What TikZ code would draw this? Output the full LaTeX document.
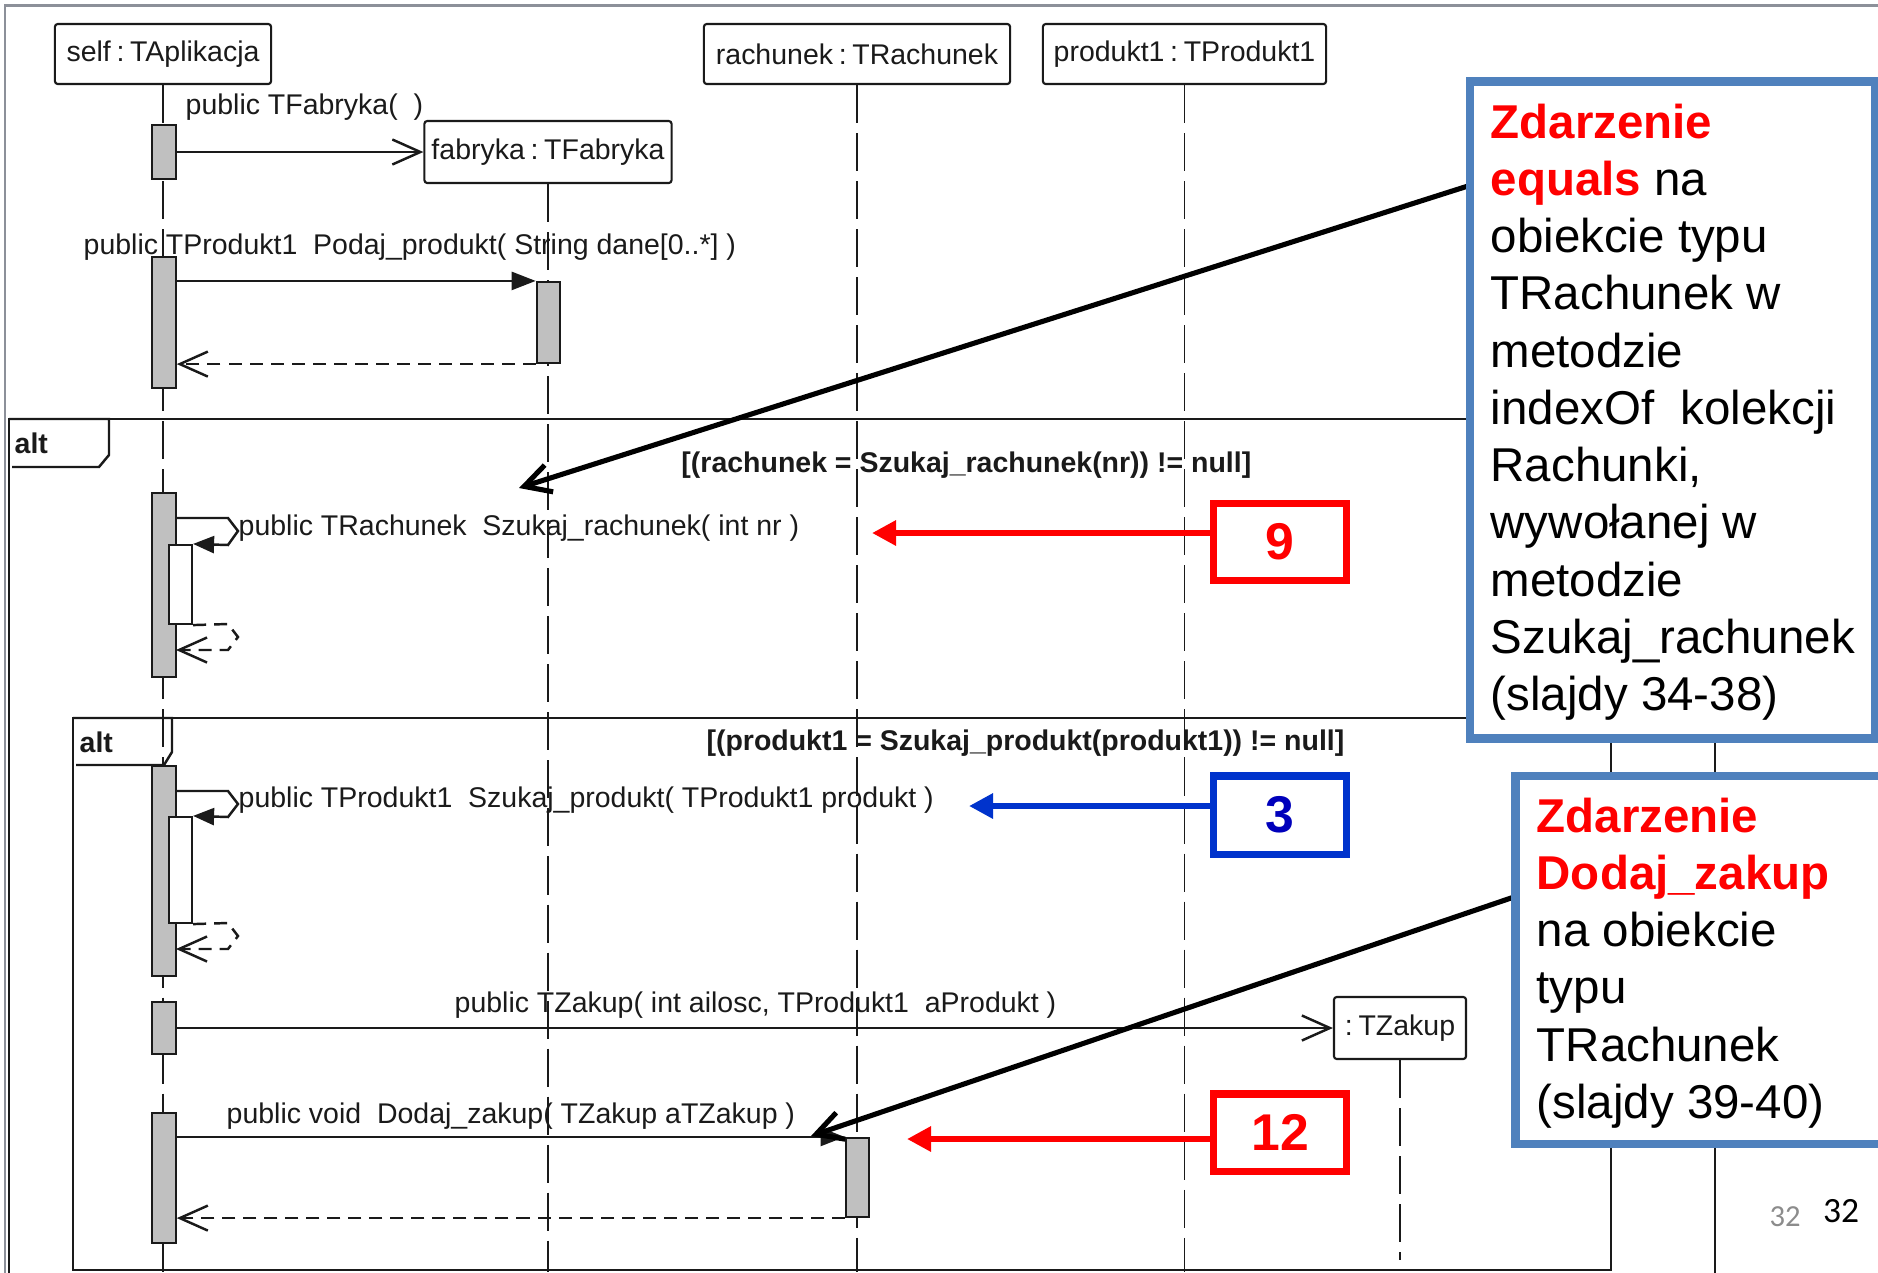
\documentclass[tikz,border=0pt]{standalone}
\usepackage{fontspec}
\setmainfont{Liberation Sans}
\newfontfamily\pagefont{Carlito}
\usetikzlibrary{arrows.meta}
\definecolor{calloutblue}{HTML}{4F81BD}
\definecolor{hotred}{HTML}{FF0000}
\definecolor{boxblue}{HTML}{0033CC}
\definecolor{numblue}{HTML}{0000BB}
\definecolor{actgray}{HTML}{C0C0C0}
\definecolor{framegray}{HTML}{8C9099}
\definecolor{ink}{HTML}{1A1A1A}
\definecolor{pagegray}{HTML}{8C8C8C}
\newcommand{\cs}{\hspace{0.2em}:\hspace{0.2em}}
\begin{document}
\begin{tikzpicture}[x=0.01cm,y=-0.01cm,
  diag/.style={font=\fontsize{8.1}{9.5}\selectfont, text=ink, inner sep=0pt},
  diagbold/.style={font=\fontsize{8.1}{9.5}\selectfont\bfseries, text=ink, inner sep=0pt},
  obj/.style={draw=ink, line width=0.6pt, rounded corners=0.8pt, fill=white, inner sep=0pt,
    font=\fontsize{8.1}{9.5}\selectfont, text=ink},
  lifeline/.style={draw=ink, line width=0.55pt, dash pattern=on 0.38cm off 0.1cm},
  act/.style={draw=ink, line width=0.6pt, fill=actgray, minimum width=0.235cm, inner sep=0pt},
  nested/.style={draw=ink, line width=0.6pt, fill=white, minimum width=0.23cm, inner sep=0pt},
  frameline/.style={draw=ink, line width=0.7pt},
  msg/.style={draw=ink, line width=0.7pt},
  callhead/.style={-{Triangle[length=0.24cm,width=0.18cm]}},
  selfhead/.style={-{Triangle[length=0.21cm,width=0.17cm]}},
  openhead/.style={-{Straight Barb[length=0.28cm,width=0.25cm]}},
  retmsg/.style={draw=ink, line width=0.7pt, dash pattern=on 0.13cm off 0.08cm},
  callout/.style={draw=calloutblue, line width=2.3pt, fill=white, inner sep=0pt},
  callouttext/.style={anchor=base west, inner sep=0pt, text=black},
  pointer/.style={draw=black, line width=1.45pt, -{Straight Barb[length=0.26cm,width=0.28cm]}},
  numbox/.style={line width=2pt, fill=white, inner sep=0pt, minimum width=1.33cm, minimum height=0.77cm,
    font=\fontsize{14.7}{16}\selectfont\bfseries},
  numarrow/.style={line width=1.7pt, -{Triangle[length=0.24cm,width=0.24cm]}}
]
\useasboundingbox (0,0) rectangle (1878,1272);
\clip (0,0) rectangle (1878,1272);
\fill[white] (0,0) rectangle (1878,1272);

% outer slide frame
\draw[framegray, line width=0.85pt] (5,1290) -- (5,5) -- (1890,5);

% bottom reference point
\coordinate (bottom) at (0,1272);
\coordinate (zbottom) at (0,1260);

% object boxes
\node[obj, minimum width=2.16cm, minimum height=0.6cm] (self) at (163,54) {self\cs TAplikacja};
\node[obj, minimum width=3.06cm, minimum height=0.6cm] (rach) at (857,54) {rachunek\cs TRachunek};
\node[obj, minimum width=2.83cm, minimum height=0.6cm] (prod) at (1184.5,54) {produkt1\cs TProdukt1};
\node[obj, minimum width=2.47cm, minimum height=0.62cm] (fab) at (548,152) {fabryka\cs TFabryka};
\node[obj, minimum width=1.32cm, minimum height=0.62cm] (tz) at (1400,1028) {:\hspace{0.2em}TZakup};

% lifelines
\draw[lifeline] (self.south) -- (self.south |- bottom);
\draw[lifeline] (fab.south) -- (fab.south |- bottom);
\draw[lifeline] (rach.south) -- (rach.south |- bottom);
\draw[lifeline] (prod.south) -- (prod.south |- bottom);
\draw[lifeline] (tz.south) -- (tz.south |- zbottom);

% combined fragments
\draw[frameline] (9,1290) -- (9,419) -- (1715,419) -- (1715,1290);
\draw[frameline] (9,419) -- (109,419) -- (109,455) -- (99,467) -- (12,467);
\node[diagbold, anchor=base west] (alt1) at (14,453) {alt};
\node[diagbold, anchor=base east] (guard1) at (1252,472) {[(rachunek = Szukaj\_rachunek(nr)) != null]};

\draw[frameline] (73,718) rectangle (1611,1270);
\draw[frameline] (73,718) -- (172,718) -- (172,752) -- (164,765) -- (76,765);
\node[diagbold, anchor=base west] (alt2) at (79,752) {alt};
\node[diagbold, anchor=base east] (guard2) at (1345,750) {[(produkt1 = Szukaj\_produkt(produkt1)) != null]};

% activations
\node[act, minimum height=0.54cm] (a1) at (164,152) {};
\node[act, minimum height=1.31cm] (a2) at (164,322.5) {};
\node[act, minimum height=0.81cm] (f1) at (548.5,322.5) {};
\node[act, minimum height=1.84cm] (a3) at (164,585) {};
\node[nested, minimum height=0.79cm] (n1) at (180.5,584.5) {};
\node[act, minimum height=2.10cm] (a4) at (164,871) {};
\node[nested, minimum height=1.06cm] (n2) at (180.5,870) {};
\node[act, minimum height=0.52cm] (a5) at (164,1028) {};
\node[act, minimum height=1.30cm] (a6) at (164,1178) {};
\node[act, minimum height=0.79cm] (r1) at (857.5,1177.5) {};

% messages
\draw[msg, openhead] (a1.east |- fab.west) -- (fab.west);
\node[diag, anchor=base west] (m1) at (185,114) {public TFabryka(\ \ )};

\draw[msg, callhead] (a2.east |- f1.north west) -- (f1.north west);
\draw[retmsg, openhead] (f1.south west) -- (a2.east |- f1.south west);
\node[diag, anchor=base west] (m2) at (83,254) {public TProdukt1\ \ Podaj\_produkt( String dane[0..*] )};

\draw[msg, selfhead] (176,518) -- (228,518) -- (238,531) -- (228,545) -- (n1.north east);
\draw[retmsg, openhead] (n1.south east) -- (228,624) -- (238,637) -- (228,650) -- (176,650);
\node[diag, anchor=base west] (m3) at (238,535) {public TRachunek\ \ Szukaj\_rachunek( int nr )};

\draw[msg, selfhead] (176,791) -- (228,791) -- (238,804) -- (228,817) -- (n2.north east);
\draw[retmsg, openhead] (n2.south east) -- (228,923) -- (238,936) -- (228,949) -- (176,949);
\node[diag, anchor=base west] (m4) at (238,807) {public TProdukt1\ \ Szukaj\_produkt( TProdukt1 produkt )};

\draw[msg, openhead] (a5.east) -- (tz.west);
\node[diag, anchor=base west] (m5) at (454,1012) {public TZakup( int ailosc, TProdukt1\ \ aProdukt )};

\draw[msg, callhead] (a6.east |- r1.north west) -- (r1.north west);
\draw[retmsg, openhead] (r1.south west) -- (a6.east |- r1.south west);
\node[diag, anchor=base west] (m6) at (226,1123) {public void\ \ Dodaj\_zakup( TZakup aTZakup )};

% numbered boxes with arrows
\node[numbox, draw=hotred, text=hotred] (b9) at (1280,542) {9};
\coordinate (t9) at (872,533);
\draw[numarrow, hotred] (b9.west |- t9) -- (t9);

\node[numbox, draw=boxblue, text=numblue, minimum height=0.78cm] (b3) at (1280,815) {3};
\coordinate (t3) at (969,806);
\draw[numarrow, boxblue] (b3.west |- t3) -- (t3);

\node[numbox, draw=hotred, text=hotred] (b12) at (1280,1132.5) {12};
\coordinate (t12) at (907,1139);
\draw[numarrow, hotred] (b12.west |- t12) -- (t12);

% callout pointers
\coordinate (p1s) at (1468,186);
\coordinate (p1e) at (519,488);
\draw[pointer] (p1s) -- (p1e);
\coordinate (p2s) at (1514,897);
\coordinate (p2e) at (811,1136);
\draw[pointer] (p2s) -- (p2e);

% callouts
\draw[callout] (1470,81.5) rectangle (1875,738.5);
\node[callouttext] (c1) at (1490,138) {\fontsize{13.5}{16.28}\selectfont
  \begin{tabular}[t]{@{}l@{}}
  \textcolor{hotred}{\bfseries Zdarzenie}\\
  \textcolor{hotred}{\bfseries equals} na\\
  obiekcie typu\\
  TRachunek w\\
  metodzie\\
  indexOf\ \ kolekcji\\
  Rachunki,\\
  wywołanej w\\
  metodzie\\
  Szukaj\_rachunek\\
  (slajdy 34-38)
  \end{tabular}};

\draw[callout] (1515.5,776) rectangle (1890,1144);
\node[callouttext] (c2) at (1536,832) {\fontsize{13.5}{16.28}\selectfont
  \begin{tabular}[t]{@{}l@{}}
  \textcolor{hotred}{\bfseries Zdarzenie}\\
  \textcolor{hotred}{\bfseries Dodaj\_zakup}\\
  na obiekcie\\
  typu\\
  TRachunek\\
  (slajdy 39-40)
  \end{tabular}};

% page numbers
\node[inner sep=0pt, text=pagegray, font=\pagefont\fontsize{8.7}{10}\selectfont] (pg1) at (1785,1217) {32};
\node[inner sep=0pt, text=black, font=\pagefont\fontsize{10.1}{12}\selectfont] (pg2) at (1841,1211) {32};
\end{tikzpicture}
\end{document}
